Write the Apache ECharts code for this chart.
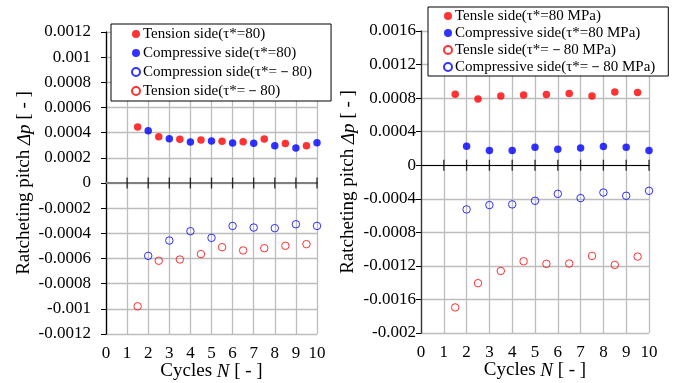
<!DOCTYPE html>
<html>
<head>
<meta charset="utf-8">
<script src="https://cdn.jsdelivr.net/npm/echarts@6/dist/echarts.min.js"></script>
<style>html,body{margin:0;padding:0;background:#fff}#c{width:674px;height:383px}</style>
</head>
<body>
<div id="c"></div>
<script>
// ---------- data ----------
var xHalf = [1.5, 2.5, 3.5, 4.5, 5.5, 6.5, 7.5, 8.5, 9.5];
var xInt = [2, 3, 4, 5, 6, 7, 8, 9, 10];
var zeroTicks = [1, 2, 3, 4, 5, 6, 7, 8, 9, 10];

// left panel
var L_names = ['Tension side(τ*=80)', 'Compressive side(τ*=80)', 'Compression side(τ*=－80)', 'Tension side(τ*=－80)'];
var L_tens80 = [0.000445, 0.000368, 0.000347, 0.000342, 0.000331, 0.000328, 0.00035, 0.000313, 0.000297];
var L_comp80 = [0.000416, 0.000352, 0.000326, 0.000334, 0.000318, 0.000315, 0.000297, 0.000278, 0.00032];
var L_compM80 = [-0.000579, -0.000457, -0.000383, -0.000436, -0.000341, -0.000354, -0.000359, -0.000328, -0.000341];
var L_tensM80 = [-0.00098, -0.000618, -0.000608, -0.000565, -0.00051, -0.000536, -0.000518, -0.000499, -0.000486];

// right panel
var R_names = ['Tensle side(τ*=80 MPa)', 'Compressive side(τ*=80 MPa)', 'Tensle side(τ*=－80 MPa)', 'Compressive side(τ*=－80 MPa)'];
var R_tens80 = [0.000846, 0.00079, 0.000826, 0.000838, 0.000842, 0.000854, 0.000826, 0.000873, 0.000866];
var R_comp80 = [0.000226, 0.000175, 0.000175, 0.000214, 0.00019, 0.000206, 0.000222, 0.000214, 0.000175];
var R_tensM80 = [-0.001695, -0.001406, -0.00126, -0.001145, -0.001176, -0.001172, -0.001081, -0.001188, -0.001089];
var R_compM80 = [-0.000527, -0.000475, -0.000467, -0.000424, -0.000341, -0.000392, -0.000325, -0.000364, -0.000305];

// ---------- helpers ----------
var FONT = 'Liberation Serif';
var RED = '#ff0000', BLUE = '#0000ff';
function pts(xs, ys) { return xs.map(function (x, i) { return [x, ys[i]]; }); }
function sc(name, xs, ys, color, filled, gi) {
  return {
    type: 'scatter', name: name, xAxisIndex: gi * 2, yAxisIndex: gi,
    data: pts(xs, ys), symbol: 'circle', symbolSize: 7.5,
    itemStyle: filled ? { color: color, borderWidth: 0 } : { color: 'rgba(255,255,255,0)', borderColor: color, borderWidth: 1 },
    z: 5, silent: true
  };
}
function tickSeries(gi) {
  return {
    type: 'scatter', xAxisIndex: gi * 2, yAxisIndex: gi, silent: true, z: 4,
    data: zeroTicks.map(function (x) { return [x, 0]; }),
    symbol: 'rect', symbolSize: [1.3, 11], itemStyle: { color: '#000' }
  };
}
var nameStyle = { fontFamily: FONT, fontSize: 19, color: '#000', rich: { i: { fontFamily: FONT, fontSize: 19, fontStyle: 'italic', color: '#000' } } };
function labelOpt(margin) {
  return { margin: margin, fontFamily: FONT, fontSize: 17, color: '#000' };
}
function xAxes(gi) {
  return [{
    gridIndex: gi, type: 'value', min: 0, max: 10, interval: 1, position: 'bottom',
    axisLine: { show: false, onZero: false }, axisTick: { show: false },
    axisLabel: labelOpt(11),
    splitLine: { show: true, lineStyle: { color: '#bdbdbd', width: 1.3 } },
    name: 'Cycles {i|N} [ - ]', nameLocation: 'middle', nameGap: 28, nameMoveOverlap: false, nameTextStyle: nameStyle
  }, {
    gridIndex: gi, type: 'value', min: 0, max: 10, interval: 1, position: 'top',
    axisLine: { show: true, onZero: true, lineStyle: gi === 0 ? { color: '#808080', width: 2 } : { color: '#000', width: 1 } },
    axisTick: { show: false }, axisLabel: { show: false }, splitLine: { show: false }
  }];
}
function yAxis(gi, min, max, interval, margin, gap) {
  return {
    gridIndex: gi, type: 'value', min: min, max: max, interval: interval,
    axisLine: { show: true, onZero: false, lineStyle: { color: gi === 0 ? '#000' : '#333', width: 1.3 } },
    axisTick: { show: true, length: 5, lineStyle: { color: '#000' } },
    axisLabel: labelOpt(margin),
    splitLine: { show: true, lineStyle: { color: '#bdbdbd', width: 1.3 } },
    name: 'Ratcheting pitch {i|Δp} [ - ]', nameLocation: 'middle', nameGap: gap, nameMoveOverlap: false, nameTextStyle: nameStyle
  };
}
function legend(names, left, top, pad, gap) {
  return {
    data: names, orient: 'vertical', left: left, top: top, padding: pad, itemGap: gap,
    itemWidth: 8, itemHeight: 8, backgroundColor: '#fff', borderColor: '#000', borderWidth: 1,
    textStyle: { fontFamily: FONT, fontSize: 15, color: '#000', lineHeight: 16, padding: [0, 0, 0, -2] },
    selectedMode: false
  };
}

var chart = echarts.init(document.getElementById('c'));
chart.setOption({
  animation: false,
  backgroundColor: '#fff',
  textStyle: { fontFamily: FONT },
  grid: [
    { left: 106, right: 357, top: 32, bottom: 49, outerBoundsMode: 'none', containLabel: false },
    { left: 421, right: 25, top: 31, bottom: 50, outerBoundsMode: 'none', containLabel: false }
  ],
  xAxis: xAxes(0).concat(xAxes(1)),
  yAxis: [yAxis(0, -0.0012, 0.0012, 0.0002, 15, 72), yAxis(1, -0.002, 0.0016, 0.0004, 5, 63)],
  legend: [
    legend(L_names, 111, 24, [2, 19, 2, 20], 3),
    legend(R_names, 428, 7, [1, 13, 1, 15], 1)
  ],
  series: [
    tickSeries(0), tickSeries(1),
    sc(L_names[0], xHalf, L_tens80, RED, true, 0),
    sc(L_names[1], xInt, L_comp80, BLUE, true, 0),
    sc(L_names[2], xInt, L_compM80, BLUE, false, 0),
    sc(L_names[3], xHalf, L_tensM80, RED, false, 0),
    sc(R_names[0], xHalf, R_tens80, RED, true, 1),
    sc(R_names[1], xInt, R_comp80, BLUE, true, 1),
    sc(R_names[2], xHalf, R_tensM80, RED, false, 1),
    sc(R_names[3], xInt, R_compM80, BLUE, false, 1)
  ]
});
</script>
</body>
</html>
